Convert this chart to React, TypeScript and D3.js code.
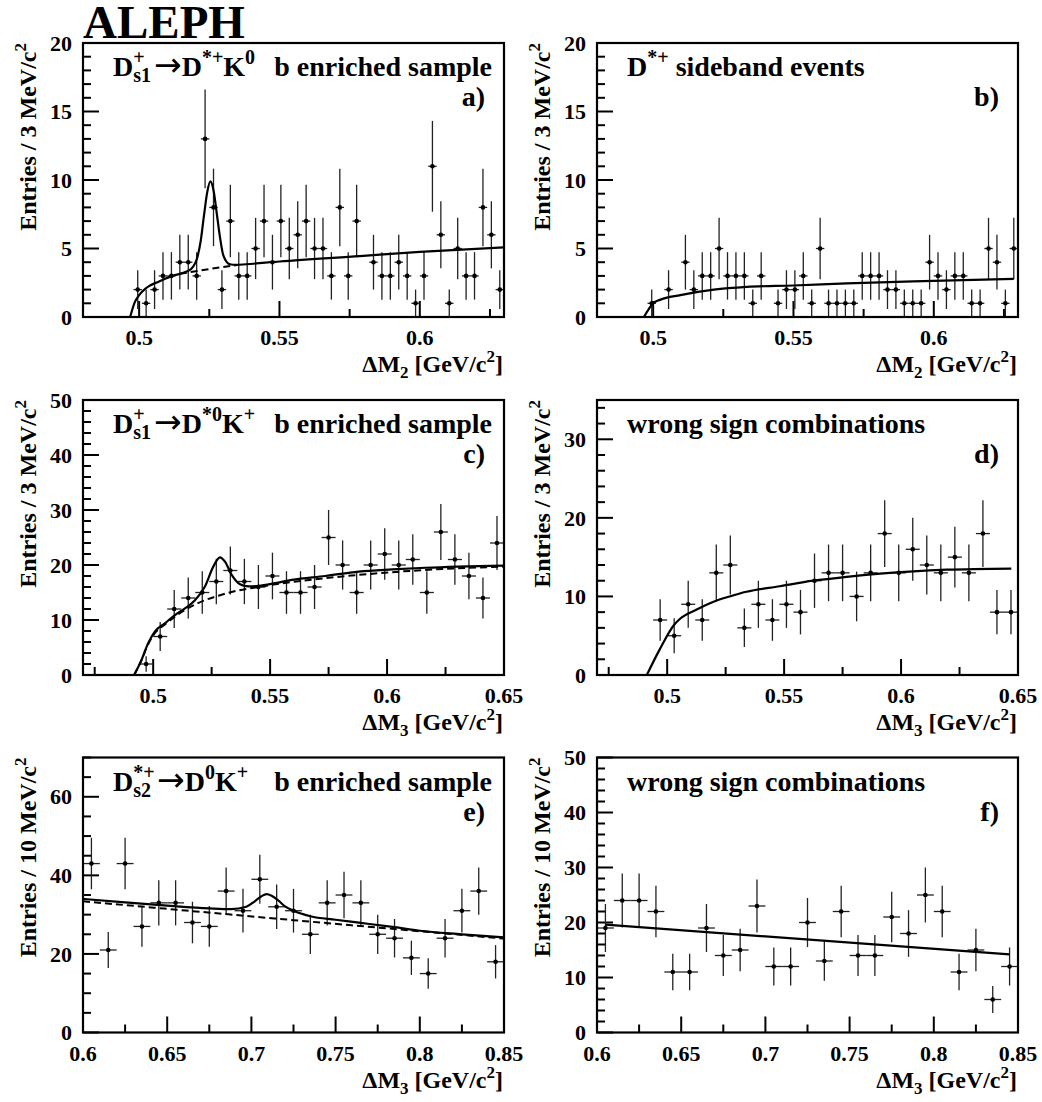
import * as d3 from "d3"
import type { ReactNode } from "react"

const FONT = "'Liberation Serif', 'Times New Roman', Times, serif"
const ARROW_FONT = "'DejaVu Sans', sans-serif"

// entries per bin (empty bins are 0)
const countsA = [2, 1, 2, 3, 3, 4, 4, 3, 13, 8, 2, 7, 3, 3, 5, 7, 4, 7, 5, 6, 7, 5, 5, 3, 8, 3, 7, 0, 4, 3, 3, 4, 3, 1, 3, 11, 6, 1, 5, 3, 3, 8, 6, 2]
const countsB = [1, 0, 2, 0, 4, 2, 3, 3, 5, 3, 3, 3, 1, 3, 0, 1, 2, 2, 3, 1, 5, 1, 1, 1, 1, 3, 3, 3, 2, 2, 1, 1, 1, 4, 3, 2, 3, 3, 1, 1, 5, 4, 1, 5]
const countsC = [2, 7, 12, 14, 15, 17, 19, 17, 16, 18, 15, 15, 16, 25, 20, 15, 20, 22, 20, 21, 15, 26, 21, 18, 14, 24]
const countsD = [7, 5, 9, 7, 13, 14, 6, 9, 7, 9, 8, 12, 13, 13, 10, 13, 18, 13, 16, 14, 13, 15, 13, 18, 8, 8]
const countsE = [43, 21, 43, 27, 33, 33, 28, 27, 36, 31, 39, 32, 31, 25, 33, 35, 33, 25, 24, 19, 15, 24, 31, 36, 18]
const countsF = [19, 24, 24, 22, 11, 11, 19, 14, 15, 23, 12, 12, 20, 13, 22, 14, 14, 21, 18, 25, 22, 11, 15, 6, 12]

// first bin edge and bin width (GeV)
const binsAB = [0.498, 0.003]
const binsCD = [0.494, 0.006]
const binsEF = [0.6, 0.01]

// fitted curves
const fitA: [number, number][] = [
  [0.4968, 0], [0.4985, 1.1], [0.5, 1.6], [0.5024, 2.1], [0.5071, 2.6], [0.5119, 3.0],
  [0.5167, 3.3], [0.5185, 3.5], [0.5208, 4.4], [0.5219, 5.5], [0.5231, 7.4], [0.52425, 9.1],
  [0.5254, 9.9], [0.52655, 9.2], [0.5277, 7.5], [0.5289, 5.7], [0.53, 4.5], [0.5323, 3.85],
  [0.5345, 3.8], [0.5381, 3.85], [0.55, 4.05], [0.5786, 4.45], [0.6, 4.75], [0.6298, 5.08],
]
const bgA: [number, number][] = [[0.5145, 3.15], [0.525, 3.5], [0.535, 3.8]]

const fitB: [number, number][] = [
  [0.4967, 0], [0.4985, 0.6], [0.5, 1.0], [0.5024, 1.25], [0.5097, 1.6], [0.5216, 2.0],
  [0.5334, 2.2], [0.55, 2.3], [0.569, 2.45], [0.5927, 2.6], [0.6285, 2.78],
]

const fitC: [number, number][] = [
  [0.49186, 0], [0.495, 2.7], [0.49786, 5.8], [0.50071, 7.9], [0.505, 9.4], [0.50929, 10.9],
  [0.51357, 12.1], [0.51786, 13.6], [0.52214, 16.1], [0.52571, 19.7], [0.52857, 21.4],
  [0.53071, 20.6], [0.53357, 18.2], [0.53714, 16.5], [0.54071, 16.1], [0.545, 16.2],
  [0.55214, 16.7], [0.55929, 17.3], [0.57357, 18.0], [0.58786, 18.8], [0.60214, 19.2],
  [0.61643, 19.5], [0.64971, 19.9],
]
const bgC: [number, number][] = [
  [0.49186, 0], [0.495, 2.7], [0.49786, 5.6], [0.50071, 7.6], [0.505, 9.2], [0.50929, 10.6],
  [0.51357, 11.8], [0.51786, 12.8], [0.52214, 13.6], [0.52857, 14.5], [0.53357, 15.1],
  [0.545, 16.0], [0.55929, 16.9], [0.57357, 17.6], [0.58786, 18.2], [0.60214, 18.7],
  [0.61643, 19.1], [0.64971, 19.7],
]

const fitD: [number, number][] = [
  [0.49129, 0], [0.49671, 3.2], [0.503, 6.4], [0.50529, 7.1], [0.51243, 8.3], [0.51957, 9.3],
  [0.52671, 10.0], [0.53386, 10.6], [0.54814, 11.3], [0.56243, 12.0], [0.57671, 12.5],
  [0.591, 12.9], [0.60529, 13.2], [0.61957, 13.4], [0.64714, 13.55],
]

const fitE: [number, number][] = [
  [0.6, 34.0], [0.625, 33.1], [0.65, 32.3], [0.675, 31.6], [0.688, 31.4], [0.697, 32.0],
  [0.702, 33.4], [0.706, 34.7], [0.709, 35.2], [0.712, 34.8], [0.716, 33.6], [0.72, 32.1],
  [0.725, 31.0], [0.735, 29.6], [0.75, 28.7], [0.765, 27.9], [0.785, 26.8], [0.8, 25.9],
  [0.825, 25.0], [0.85, 24.2],
]
const bgE: [number, number][] = [[0.6, 33.4], [0.725, 28.6], [0.85, 23.9]]

const fitF: [number, number][] = [[0.605, 19.6], [0.845, 14.2]]

// axis tick labels
const xTicksAB = [0.5, 0.55, 0.6]
const xTicksCD = [0.5, 0.55, 0.6, 0.65]
const xTicksEF = [0.6, 0.65, 0.7, 0.75, 0.8, 0.85]
const yTicksAB = [0, 5, 10, 15, 20]
const yTicksC = [0, 10, 20, 30, 40, 50]
const yTicksD = [0, 10, 20, 30]
const yTicksE = [0, 20, 40, 60]
const yTicksF = [0, 10, 20, 30, 40, 50]

type PanelDef = {
  left: number
  top: number
  w: number
  h: number
  xDomain: [number, number]
  yMax: number
  bins: number[]
  counts: number[]
  fit: [number, number][]
  bg?: [number, number][]
  xTicks: number[]
  xMinor: number
  yTicks: number[]
  yMinor: number
  sub: string
  binLabel: string
  title: ReactNode
  note?: string
  letter: string
}

const SUP = 20

function Panel({ p }: { p: PanelDef }) {
  const right = p.left + p.w
  const bottom = p.top + p.h
  const x = d3.scaleLinear().domain(p.xDomain).range([p.left, right])
  const y = d3.scaleLinear().domain([0, p.yMax]).range([bottom, p.top])
  const line = d3
    .line<[number, number]>()
    .x((d) => x(d[0]))
    .y((d) => y(d[1]))
    .curve(d3.curveMonotoneX)

  const steps = (d0: number, d1: number, s: number) =>
    d3.range(Math.ceil(d0 / s - 1e-6), Math.floor(d1 / s + 1e-6) + 1).map((k) => +(k * s).toFixed(4))
  const isMajor = (v: number, arr: number[]) => arr.some((t) => Math.abs(t - v) < 1e-6)

  const xt = steps(p.xDomain[0], p.xDomain[1], p.xMinor)
  const yt = steps(0, p.yMax, p.yMinor)

  const [b0, bw] = p.bins
  const pts = p.counts
    .map((n, i) => ({ n, c: b0 + bw * (i + 0.5), lo: b0 + bw * i, hi: b0 + bw * (i + 1) }))
    .filter((d) => d.n > 0)

  return (
    <g>
      {xt.map((v) => (
        <line
          key={`x${v}`}
          x1={x(v)}
          x2={x(v)}
          y1={bottom}
          y2={bottom - (isMajor(v, p.xTicks) ? 16 : 8)}
          stroke="#000"
          strokeWidth={2}
        />
      ))}
      {yt.map((v) => (
        <line
          key={`y${v}`}
          x1={p.left}
          x2={p.left + (isMajor(v, p.yTicks) ? 16 : 8)}
          y1={y(v)}
          y2={y(v)}
          stroke="#000"
          strokeWidth={2}
        />
      ))}

      {pts.map((d) => (
        <g key={d.c} stroke="#222" strokeWidth={1.3}>
          <line x1={x(d.c)} x2={x(d.c)} y1={y(d.n - Math.sqrt(d.n))} y2={y(d.n + Math.sqrt(d.n))} />
          <line x1={x(d.lo)} x2={x(d.hi)} y1={y(d.n)} y2={y(d.n)} />
          <circle cx={x(d.c)} cy={y(d.n)} r={2.3} fill="#000" stroke="none" />
        </g>
      ))}

      {p.bg && <path d={line(p.bg) ?? ""} fill="none" stroke="#000" strokeWidth={2} strokeDasharray="7 4" />}
      <path d={line(p.fit) ?? ""} fill="none" stroke="#000" strokeWidth={2.2} />

      <rect x={p.left} y={p.top} width={p.w} height={p.h} fill="none" stroke="#000" strokeWidth={2.2} />

      {p.xTicks.map((v) => (
        <text key={`xl${v}`} x={x(v)} y={bottom + 28} fontSize={22} textAnchor="middle">
          {String(v)}
        </text>
      ))}
      {p.yTicks.map((v) => (
        <text key={`yl${v}`} x={p.left - 11} y={y(v)} dy="0.35em" fontSize={22} textAnchor="end">
          {String(v)}
        </text>
      ))}

      <text x={right - 1} y={bottom + 55} fontSize={24} textAnchor="end">
        ΔM
        <tspan fontSize={17} dy={6}>
          {p.sub}
        </tspan>
        <tspan dy={-6}>{" [GeV/c"}</tspan>
        <tspan fontSize={17} dy={-10}>
          2
        </tspan>
        <tspan dy={10}>]</tspan>
      </text>

      <text
        transform={`translate(${p.left - 47},${p.top}) rotate(-90)`}
        fontSize={24}
        textAnchor="end"
      >
        {`Entries / ${p.binLabel} MeV/c`}
        <tspan fontSize={17} dy={-10}>
          2
        </tspan>
      </text>

      <text x={p.left + 30} y={p.top + 33} fontSize={28}>
        {p.title}
      </text>
      {p.note && (
        <text x={right - 12} y={p.top + 33} fontSize={28} textAnchor="end">
          {p.note}
        </text>
      )}
      <text x={right - 19} y={p.top + 63} fontSize={28} textAnchor="end">
        {p.letter}
      </text>
    </g>
  )
}

const Arrow = ({ dx }: { dx: number }) => (
  <tspan dx={dx} dy={-6} fontSize={33} fontFamily={ARROW_FONT} fontWeight={400}>
    →
  </tspan>
)

const titleA = (
  <>
    D
    <tspan fontSize={SUP} dy={-12}>+</tspan>
    <tspan fontSize={SUP} dx={-11.4} dy={18}>s1</tspan>
    <Arrow dx={3} />
    <tspan>D</tspan>
    <tspan fontSize={SUP} dy={-12}>*+</tspan>
    <tspan dy={12}>K</tspan>
    <tspan fontSize={SUP} dy={-12}>0</tspan>
  </>
)
const titleB = (
  <>
    D
    <tspan fontSize={SUP} dy={-12}>*+</tspan>
    <tspan dy={12}>{" sideband events"}</tspan>
  </>
)
const titleC = (
  <>
    D
    <tspan fontSize={SUP} dy={-12}>+</tspan>
    <tspan fontSize={SUP} dx={-11.4} dy={18}>s1</tspan>
    <Arrow dx={3} />
    <tspan>D</tspan>
    <tspan fontSize={SUP} dy={-12}>*0</tspan>
    <tspan dy={12}>K</tspan>
    <tspan fontSize={SUP} dy={-12}>+</tspan>
  </>
)
const titleE = (
  <>
    D
    <tspan fontSize={SUP} dy={-12}>*+</tspan>
    <tspan fontSize={SUP} dx={-21.4} dy={18}>s2</tspan>
    <Arrow dx={6} />
    <tspan>D</tspan>
    <tspan fontSize={SUP} dy={-12}>0</tspan>
    <tspan dy={12}>K</tspan>
    <tspan fontSize={SUP} dy={-12}>+</tspan>
  </>
)

const L = 83
const R = 597
const W = 421
const H = 275

const panels: PanelDef[] = [
  {
    left: L, top: 43, w: W, h: 274, xDomain: [0.48, 0.63], yMax: 20, bins: binsAB, counts: countsA,
    fit: fitA, bg: bgA, xTicks: xTicksAB, xMinor: 0.025, yTicks: yTicksAB, yMinor: 1, sub: "2",
    binLabel: "3", title: titleA, note: "b enriched sample", letter: "a)",
  },
  {
    left: R, top: 43, w: W, h: 274, xDomain: [0.48, 0.63], yMax: 20, bins: binsAB, counts: countsB,
    fit: fitB, xTicks: xTicksAB, xMinor: 0.025, yTicks: yTicksAB, yMinor: 1, sub: "2",
    binLabel: "3", title: titleB, letter: "b)",
  },
  {
    left: L, top: 400, w: W, h: H, xDomain: [0.47, 0.65], yMax: 50, bins: binsCD, counts: countsC,
    fit: fitC, bg: bgC, xTicks: xTicksCD, xMinor: 0.025, yTicks: yTicksC, yMinor: 2, sub: "3",
    binLabel: "3", title: titleC, note: "b enriched sample", letter: "c)",
  },
  {
    left: R, top: 400, w: W, h: H, xDomain: [0.47, 0.65], yMax: 35, bins: binsCD, counts: countsD,
    fit: fitD, xTicks: xTicksCD, xMinor: 0.025, yTicks: yTicksD, yMinor: 2, sub: "3",
    binLabel: "3", title: "wrong sign combinations", letter: "d)",
  },
  {
    left: L, top: 757.5, w: W, h: H, xDomain: [0.6, 0.85], yMax: 70, bins: binsEF, counts: countsE,
    fit: fitE, bg: bgE, xTicks: xTicksEF, xMinor: 0.025, yTicks: yTicksE, yMinor: 5, sub: "3",
    binLabel: "10", title: titleE, note: "b enriched sample", letter: "e)",
  },
  {
    left: R, top: 757.5, w: W, h: H, xDomain: [0.6, 0.85], yMax: 50, bins: binsEF, counts: countsF,
    fit: fitF, xTicks: xTicksEF, xMinor: 0.025, yTicks: yTicksF, yMinor: 2, sub: "3",
    binLabel: "10", title: "wrong sign combinations", letter: "f)",
  },
]

export default function App() {
  return (
    <div style={{ position: "absolute", left: 0, top: 0, background: "#fff" }}>
      <svg width={1042} height={1102} fontFamily={FONT} fontWeight={700} style={{ display: "block" }}>
        <rect width={1042} height={1102} fill="#fff" />
        <text x={83} y={38} fontSize={47}>
          ALEPH
        </text>
        {panels.map((p) => (
          <Panel key={p.letter} p={p} />
        ))}
      </svg>
    </div>
  )
}
